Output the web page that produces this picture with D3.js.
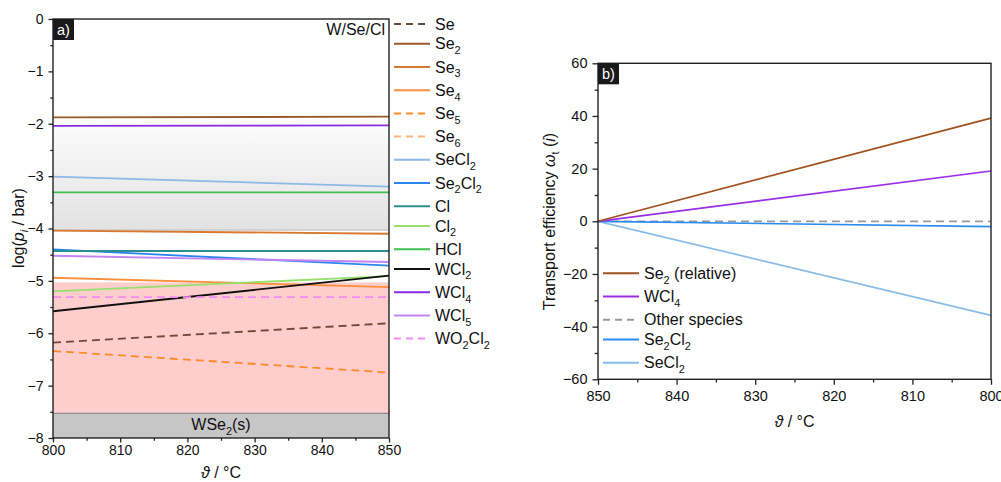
<!DOCTYPE html>
<html>
<head>
<meta charset="utf-8">
<script src="https://cdn.jsdelivr.net/npm/d3@7"></script>
<style>
  body { margin: 0; background: #fff; }
  svg { display: block; font-family: "Liberation Sans", Arial, sans-serif; }
</style>
</head>
<body>
<svg id="chart"></svg>
<script>
// Panel a) partial pressures, read at both ends of the range
const tempsA = [800, 850];
const speciesA = ["Se", "Se2", "Se3", "Se4", "Se5", "Se6", "SeCl2", "Se2Cl2", "Cl", "Cl2", "HCl", "WCl2", "WCl4", "WCl5", "WO2Cl2"];
const logP800 = [-6.18, -1.88, -4.04, -4.94, -6.34, -8.6, -3.01, -4.40, -4.43, -5.20, -3.31, -5.58, -2.04, -4.52, -5.31];
const logP850 = [-5.81, -1.865, -4.10, -5.12, -6.75, -9.1, -3.20, -4.71, -4.43, -4.91, -3.31, -4.90, -2.03, -4.64, -5.31];
const colorsA = ["#6b4a3a", "#9b5a2b", "#d9772f", "#ff8f3c", "#ff8a2a", "#ffb574", "#8cb9e6", "#2a86ef", "#2c8f8f", "#95e06e", "#3fc04f", "#111111", "#8a2be2", "#c283f5", "#f48af2"];
const dashedA = ["Se", "Se5", "Se6", "WO2Cl2"];

// shaded regions (log p)
const gasBand = [-1.87, -4.03];
const depoBand = [-5.03, -7.53];
const solidBand = [-7.53, -8];

// Panel b) transport efficiency
const tempsB = [850, 800];
const speciesB = ["Se2 (relative)", "WCl4", "Other species", "Se2Cl2", "SeCl2"];
const eff850 = [0, 0, 0, 0, 0];
const eff800 = [39.2, 19.1, 0, -2.0, -35.7];
const colorsB = ["#a0521f", "#9a2ee6", "#999999", "#2a8cf0", "#88bde8"];
const dashedB = ["Other species"];

const width = 1001;
const height = 482;

const svg = d3.select("#chart")
    .attr("width", width)
    .attr("height", height);

// digits in species names become subscripts
function richText(sel, label, size) {
    let shifted = false;
    label.split(/(\d+)/).forEach(p => {
        if (!p) return;
        const isSub = /^\d+$/.test(p);
        const t = sel.append("tspan").text(p);
        if (isSub) {
            t.attr("font-size", size * 0.68).attr("dy", size * 0.3);
            shifted = true;
        } else {
            t.attr("font-size", size);
            if (shifted) { t.attr("dy", -size * 0.3); shifted = false; }
        }
    });
}

function legend(g, names, colors, dashed, x0, y0) {
    let y = y0;
    names.forEach((name, i) => {
        g.append("line")
            .attr("x1", x0).attr("x2", x0 + 36)
            .attr("y1", y).attr("y2", y)
            .attr("stroke", colors[i])
            .attr("stroke-width", 2)
            .attr("stroke-dasharray", dashed.includes(name) ? "7,5" : null);
        const t = g.append("text")
            .attr("x", x0 + 41)
            .attr("y", y + 5.6)
            .attr("fill", "#111");
        richText(t, name, 16);
        y += /\d/.test(name) ? 23.2 : 19.8;
    });
}

// ---------- panel a ----------
const xa = d3.scaleLinear([800, 850], [53, 389]);
const ya = d3.scaleLinear([0, -8], [19, 438]);

const defs = svg.append("defs");
const grad = defs.append("linearGradient")
    .attr("id", "gasGrad")
    .attr("x1", 0).attr("y1", 0).attr("x2", 0).attr("y2", 1);
grad.append("stop").attr("offset", "0%").attr("stop-color", "#fdfdfd");
grad.append("stop").attr("offset", "100%").attr("stop-color", "#e2e2e2");

defs.append("clipPath").attr("id", "clipA")
    .append("rect")
    .attr("x", xa(800)).attr("y", ya(0))
    .attr("width", xa(850) - xa(800)).attr("height", ya(-8) - ya(0));

const pa = svg.append("g");

pa.append("rect")
    .attr("x", xa(800)).attr("width", xa(850) - xa(800))
    .attr("y", ya(gasBand[0])).attr("height", ya(gasBand[1]) - ya(gasBand[0]))
    .attr("fill", "url(#gasGrad)");
pa.append("line")
    .attr("x1", xa(800)).attr("x2", xa(850))
    .attr("y1", ya(gasBand[1])).attr("y2", ya(gasBand[1]))
    .attr("stroke", "#b8b8b8");

pa.append("rect")
    .attr("x", xa(800)).attr("width", xa(850) - xa(800))
    .attr("y", ya(depoBand[0])).attr("height", ya(depoBand[1]) - ya(depoBand[0]))
    .attr("fill", "#ffcdcb");

pa.append("rect")
    .attr("x", xa(800)).attr("width", xa(850) - xa(800))
    .attr("y", ya(solidBand[0])).attr("height", ya(solidBand[1]) - ya(solidBand[0]))
    .attr("fill", "#c6c6c6");
pa.append("line")
    .attr("x1", xa(800)).attr("x2", xa(850))
    .attr("y1", ya(solidBand[0])).attr("y2", ya(solidBand[0]))
    .attr("stroke", "#8e8e8e").attr("stroke-width", 1.2);

const seriesA = speciesA.map((name, i) => ({
    name,
    color: colorsA[i],
    values: [logP800[i], logP850[i]].map((v, j) => ({ t: tempsA[j], v }))
}));

const lineA = d3.line().x(d => xa(d.t)).y(d => ya(d.v));

pa.append("g")
    .attr("clip-path", "url(#clipA)")
    .selectAll("path")
    .data(seriesA)
    .join("path")
    .attr("d", d => lineA(d.values))
    .attr("fill", "none")
    .attr("stroke", d => d.color)
    .attr("stroke-width", 1.8)
    .attr("stroke-dasharray", d => dashedA.includes(d.name) ? "8,5" : null);

// axes with minor ticks
function axes(g, x, y, xMinor, xMajor, yMinor, yMajor, tick, pad, font) {
    const [x0, x1] = x.range();
    const [y0, y1] = y.range();
    g.append("g").attr("transform", `translate(0,${y1})`)
        .call(d3.axisBottom(x).tickValues(xMinor).tickSize(tick * 0.6).tickFormat(""));
    g.append("g").attr("transform", `translate(0,${y1})`)
        .call(d3.axisBottom(x).tickValues(xMajor).tickSize(tick).tickPadding(pad[0]).tickFormat(d3.format("d")));
    g.append("g").attr("transform", `translate(${x0},0)`)
        .call(d3.axisLeft(y).tickValues(yMinor).tickSize(tick * 0.6).tickFormat(""));
    g.append("g").attr("transform", `translate(${x0},0)`)
        .call(d3.axisLeft(y).tickValues(yMajor).tickSize(tick).tickPadding(pad[1]).tickFormat(d3.format("d")));
    g.selectAll(".domain").remove();
    g.selectAll(".tick line").attr("stroke", "#222").attr("stroke-width", 1.3);
    g.selectAll(".tick text").attr("font-size", font).attr("fill", "#111")
        .attr("font-family", "Liberation Sans, Arial, sans-serif");
    g.append("rect")
        .attr("x", Math.min(x0, x1)).attr("y", y0)
        .attr("width", Math.abs(x1 - x0)).attr("height", y1 - y0)
        .attr("fill", "none").attr("stroke", "#222").attr("stroke-width", 1.4);
}

axes(pa.append("g"), xa, ya,
    d3.range(805, 850, 10), d3.range(800, 851, 10),
    d3.range(-0.5, -8, -1), d3.range(0, -8.1, -1),
    4.5, [3, 5], 14);

// panel tag and labels
pa.append("rect").attr("x", 53).attr("y", 19).attr("width", 21).attr("height", 21).attr("fill", "#1a1a1a");
pa.append("text").attr("x", 57).attr("y", 35).attr("fill", "#fff").attr("font-size", 14.5).text("a)");
pa.append("text").attr("x", 385).attr("y", 35).attr("text-anchor", "end")
    .attr("font-size", 16).attr("fill", "#111").text("W/Se/Cl");

const wse = pa.append("text")
    .attr("x", (xa(800) + xa(850)) / 2).attr("y", 430)
    .attr("text-anchor", "middle").attr("fill", "#111");
richText(wse, "WSe2(s)", 16);

const ylabA = pa.append("text")
    .attr("transform", `translate(24,228) rotate(-90)`)
    .attr("text-anchor", "middle").attr("font-size", 16).attr("fill", "#111");
ylabA.append("tspan").text("log(");
ylabA.append("tspan").attr("font-style", "italic").text("p");
ylabA.append("tspan").attr("font-style", "italic").attr("font-size", 11).attr("dy", 4).text("i");
ylabA.append("tspan").attr("dy", -4).text(" / bar)");

const xlabA = pa.append("text")
    .attr("x", (xa(800) + xa(850)) / 2).attr("y", 478)
    .attr("text-anchor", "middle").attr("font-size", 16).attr("fill", "#111");
xlabA.append("tspan").attr("font-style", "italic").text("ϑ");
xlabA.append("tspan").text(" / °C");

legend(svg.append("g"), speciesA, colorsA, dashedA, 394, 24);

// ---------- panel b ----------
const xb = d3.scaleLinear([850, 800], [598, 991]);
const yb = d3.scaleLinear([60, -60], [63.3, 379.3]);

const pb = svg.append("g");

const seriesB = speciesB.map((name, i) => ({
    name,
    color: colorsB[i],
    values: [eff850[i], eff800[i]].map((v, j) => ({ t: tempsB[j], v }))
}));

const lineB = d3.line().x(d => xb(d.t)).y(d => yb(d.v));

// draw gray reference line first so coloured lines sit on top
pb.append("g")
    .selectAll("path")
    .data([seriesB[2], seriesB[4], seriesB[3], seriesB[1], seriesB[0]])
    .join("path")
    .attr("d", d => lineB(d.values))
    .attr("fill", "none")
    .attr("stroke", d => d.color)
    .attr("stroke-width", 1.7)
    .attr("stroke-dasharray", d => dashedB.includes(d.name) ? "8,5" : null);

axes(pb.append("g"), xb, yb,
    d3.range(845, 800, -10), d3.range(850, 799, -10),
    d3.range(50, -60, -20), d3.range(60, -61, -20),
    5.5, [6, 5], 14.5);

pb.append("rect").attr("x", 598).attr("y", 63.3).attr("width", 21).attr("height", 21).attr("fill", "#1a1a1a");
pb.append("text").attr("x", 602).attr("y", 79).attr("fill", "#fff").attr("font-size", 14.5).text("b)");

const ylabB = pb.append("text")
    .attr("transform", `translate(555,221.5) rotate(-90)`)
    .attr("text-anchor", "middle").attr("font-size", 16).attr("fill", "#111");
ylabB.append("tspan").text("Transport efficiency ");
ylabB.append("tspan").attr("font-style", "italic").text("ω");
ylabB.append("tspan").attr("font-size", 11).attr("dy", 4).text("t");
ylabB.append("tspan").attr("dy", -4).text(" (");
ylabB.append("tspan").attr("font-style", "italic").text("i");
ylabB.append("tspan").text(")");

const xlabB = pb.append("text")
    .attr("x", (xb(850) + xb(800)) / 2).attr("y", 427)
    .attr("text-anchor", "middle").attr("font-size", 16).attr("fill", "#111");
xlabB.append("tspan").attr("font-style", "italic").text("ϑ");
xlabB.append("tspan").text(" / °C");

legend(svg.append("g"), speciesB, colorsB, dashedB, 603, 273.3);
</script>
</body>
</html>
